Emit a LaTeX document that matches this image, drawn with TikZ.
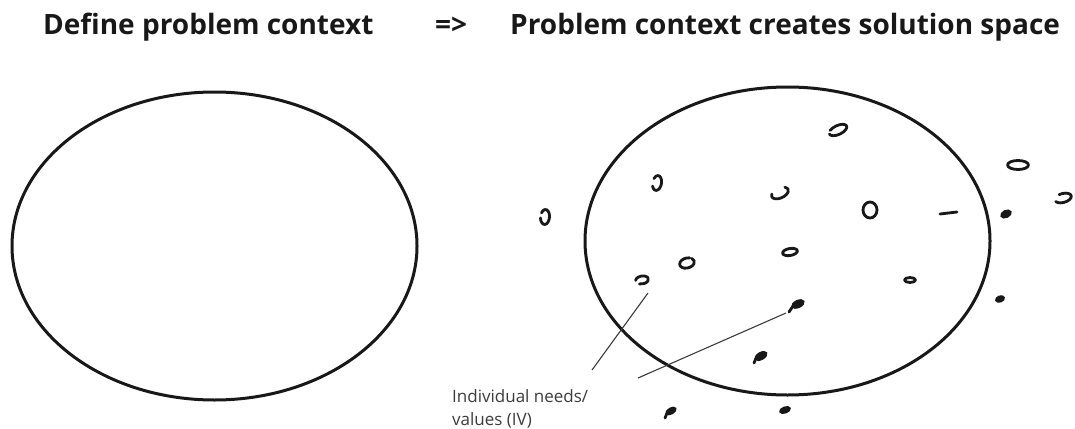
\documentclass[tikz,border=0pt]{standalone}
\usepackage{fontspec}
\setmainfont{Open Sans}
\usetikzlibrary{shapes.geometric}
\definecolor{ink}{HTML}{181818}
\definecolor{labelgray}{HTML}{3C3C3C}
\tikzset{
  heading/.style={inner sep=0pt,anchor=base west,text=ink,font=\bfseries\fontsize{28}{32}\selectfont},
  region/.style={draw=ink,ellipse,line width=3pt,minimum width=405pt,minimum height=308pt,inner sep=0pt},
  blob/.style={draw=ink,line width=2.8pt,line cap=round,line join=round},
  dotblob/.style={fill=ink,draw=ink,line width=1.2pt},
  pointer/.style={draw=labelgray,line width=1.1pt},
}
% open hand-drawn loop: x, y, rotation, x radius, y radius, start angle, end angle
\newcommand\loopmark[7]{%
  \draw[blob,shift={(#1,#2)},rotate=#3] (#6:#4pt and #5pt)
    arc[start angle=#6,end angle=#7,x radius=#4pt,y radius=#5pt];}
% small solid mark: x, y, rotation, x radius, y radius
\newcommand\dotmark[5]{%
  \filldraw[dotblob,shift={(#1,#2)},rotate=#3] (0,0) ellipse[x radius=#4pt,y radius=#5pt];}
\begin{document}
\begin{tikzpicture}[x=1pt,y=-1pt]
\useasboundingbox (0,0) rectangle (1075,428);

% headings
\node[heading] (defhead) at (43,35) {Define problem context};
\node[heading] (arrowhead) at (435,35) {=>};
\node[heading] (spacehead) at (510,35) {Problem context creates solution space};

% problem context regions
\node[region] (context) at (214.5,246) {};
\node[region] (space) at (787.5,241) {};

% individual needs / values scattered in and around the solution space
\loopmark{838}{130}{25}{9.5}{4.5}{180}{500}
\loopmark{657}{183}{80}{7.5}{4.5}{120}{420}
\loopmark{780}{193}{25}{9}{5}{150}{400}
\loopmark{870}{210}{0}{7}{8}{0}{360}
\draw[blob] (940,214) -- (957,212);
\loopmark{790}{252}{10}{7.5}{3.5}{0}{360}
\loopmark{687}{263}{15}{7.5}{5}{60}{400}
\loopmark{642}{280}{10}{6.5}{4}{-120}{170}
\loopmark{910}{280}{0}{5.5}{2.5}{0}{360}
\dotmark{798}{304}{25}{6.5}{3.5}
\draw[blob] (793,306) -- (789,312);
\dotmark{761}{356}{30}{6.5}{3.5}
\draw[blob] (756,358) -- (754,363);
\loopmark{545}{217}{85}{7.5}{4.5}{100}{420}
\loopmark{1018}{165}{0}{10.5}{4.5}{0}{360}
\loopmark{1063}{198}{15}{8.5}{4.5}{200}{470}
\dotmark{1006}{214}{25}{5.5}{3.5}
\dotmark{1000}{299}{20}{4.5}{3}
\dotmark{671}{411}{30}{5.5}{3}
\draw[blob] (667,413) -- (665,418);
\dotmark{785}{410}{20}{5.5}{3}

% label (anchored on the baseline of its last line) and its pointers
\node[inner sep=0pt,anchor=base west,align=left,text=labelgray,
      font=\fontsize{17}{23}\selectfont] (ivlabel) at (452,425)
      {Individual needs/\\values (IV)};
\coordinate (ivA) at (648,293);
\coordinate (ivAfoot) at (592,370);
\coordinate (ivB) at (786,313);
\coordinate (ivBfoot) at (638,378);
\draw[pointer] (ivA) -- (ivAfoot);
\draw[pointer] (ivB) -- (ivBfoot);
\end{tikzpicture}
\end{document}
